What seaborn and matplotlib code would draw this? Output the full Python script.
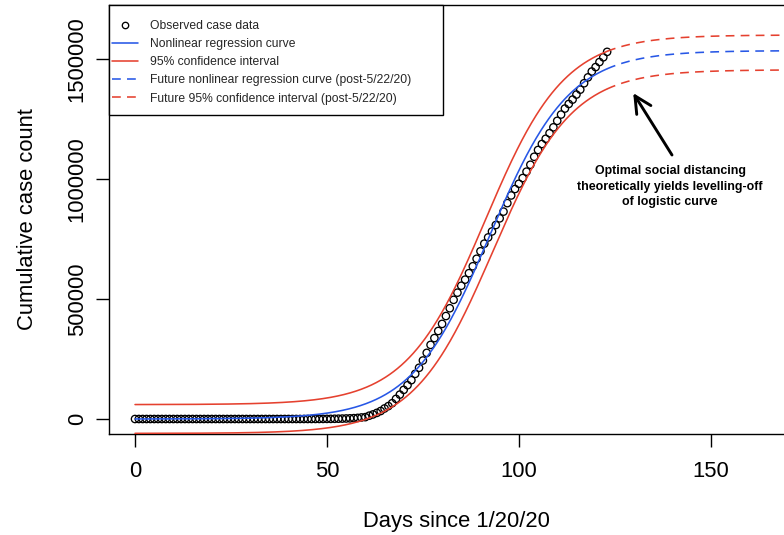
import numpy as np
import pandas as pd
import matplotlib
matplotlib.use("Agg")
import matplotlib.pyplot as plt
import seaborn as sns
from matplotlib.lines import Line2D
from matplotlib.patches import Rectangle

# ---------------- data ----------------
# Observed cumulative case counts, one per day (day 0 .. 123)
observed_cases = [
    0, 0, 0, 1,
    1, 1, 2, 2, 5, 5, 5, 5, 5, 7, 8, 8, 11, 11, 11, 11, 11, 11, 11, 11,
    12, 12, 13, 13, 13, 13, 13, 13, 13, 13, 15, 15, 15, 51, 51, 57, 58, 60, 68,
    74, 98, 118, 149, 217, 262, 402, 518, 583, 959, 1281, 1663, 2179, 2727,
    3499, 4632, 6421, 7786, 13680, 19101,
    25493, 33276, 43847, 53740, 65778, 83836, 101657, 121478, 140886, 161807,
    188172,
    213372, 243762, 275586, 308853, 337072, 366667, 396223, 429052, 461437,
    496535, 526396, 555313, 580619, 607670, 636350, 667592,
    698903, 730582, 756529, 781408, 808258, 836032, 864131, 899414, 931390,
    958330, 980182, 1003957, 1030601, 1059378, 1092564, 1120915, 1145779,
    1167555, 1190932, 1215288, 1242287, 1268521, 1293501, 1312718, 1330874,
    1351831, 1372336, 1399019, 1423443, 1447814, 1466278, 1487290, 1507044,
    1529746,
]
observed_days = list(range(len(observed_cases)))

# Logistic model parameters:
# [asymptote, growth rate, midpoint day, vertical offset]
fit_params = [1.535e6, 0.097, 92.5, 0.0]
ci_upper_params = [1.54e6, 0.097, 91.3, 6.0e4]
ci_lower_params = [1.515e6, 0.097, 93.2, -6.0e4]
last_observed_day = 123     # 5/22/20
last_future_day = 176

x_ticks = [0, 50, 100, 150]
y_ticks = [0, 500000, 1000000, 1500000]
y_tick_labels = ["0", "500000", "1000000", "1500000"]

legend_labels = [
    "Observed case data",
    "Nonlinear regression curve",
    "95% confidence interval",
    "Future nonlinear regression curve (post-5/22/20)",
    "Future 95% confidence interval (post-5/22/20)",
]
annotation_text = ("Optimal social distancing\n"
                   "theoretically yields levelling-off\n"
                   "of logistic curve")


def logistic(t, p):
    k, r, t0, c = p
    return c + k / (1.0 + np.exp(-r * (t - t0)))


# ---------------- styling ----------------
sns.set_theme(style="white")
plt.rcParams["font.family"] = ["Liberation Sans", "DejaVu Sans"]

BLUE = "#2757e6"
RED = "#e5412f"
LW = 1.15
DASH = (0, (5.5, 3.9))

W, H = 784, 535
fig = plt.figure(figsize=(W / 100, H / 100), dpi=100)
ax_left, ax_right, ax_top, ax_bottom = 109.3, 804.8, 5.0, 434.0
ax = fig.add_axes([ax_left / W, 1 - ax_bottom / H,
                   (ax_right - ax_left) / W, (ax_bottom - ax_top) / H])

obs_df = pd.DataFrame({"day": observed_days, "cases": observed_cases})
sns.scatterplot(data=obs_df, x="day", y="cases", ax=ax, marker="o",
                facecolor="none", edgecolor="black", s=28, linewidth=0.95,
                zorder=2, legend=False)

t_now = np.linspace(0, last_observed_day, 600)
t_fut = np.linspace(last_observed_day, last_future_day, 300)
for params, color, z in [(ci_upper_params, RED, 3), (ci_lower_params, RED, 3),
                         (fit_params, BLUE, 3)]:
    sns.lineplot(x=t_now, y=logistic(t_now, params), ax=ax, color=color,
                 linewidth=LW, sort=False, estimator=None, zorder=z)
    sns.lineplot(x=t_fut, y=logistic(t_fut, params), ax=ax, color=color,
                 linewidth=LW, linestyle=DASH, sort=False, estimator=None,
                 zorder=z)

ax.set_xlim(-6.7, 174.5)
ax.set_ylim(-62500, 1725000)
ax.set_xticks(x_ticks)
ax.set_xticklabels([str(v) for v in x_ticks])
ax.set_yticks(y_ticks)
ax.set_yticklabels(y_tick_labels, rotation=90, va="center")

for s in ax.spines.values():
    s.set_color("black")
    s.set_linewidth(1.0)

ax.tick_params(axis="both", which="major", direction="out", length=9.5,
               width=1.0, color="black", labelsize=15.8, labelcolor="black",
               left=True, bottom=True)
ax.tick_params(axis="x", pad=10)
ax.tick_params(axis="y", pad=6)

ax.set_xlabel("Days since 1/20/20", fontsize=15.8, color="black")
ax.set_ylabel("Cumulative case count", fontsize=15.8, color="black")
ax.xaxis.label.set_va("center")
ax.yaxis.label.set_va("center")
ax.xaxis.set_label_coords(0.4985, (ax_bottom - 521) / (ax_bottom - ax_top))
ax.yaxis.set_label_coords((28 - ax_left) / (ax_right - ax_left), 0.5)

# legend frame (R style: square box)
box = Rectangle((0.0, (ax_bottom - 115) / (ax_bottom - ax_top)),
                (443 - ax_left) / (ax_right - ax_left),
                1.0 - (ax_bottom - 115) / (ax_bottom - ax_top),
                transform=ax.transAxes, facecolor="white", edgecolor="black",
                linewidth=1.0, zorder=4, clip_on=False)
ax.add_patch(box)

handles = [
    Line2D([], [], linestyle="none", marker="o", markersize=4.6,
           markerfacecolor="none", markeredgecolor="black",
           markeredgewidth=0.95),
    Line2D([], [], color=BLUE, linewidth=LW),
    Line2D([], [], color=RED, linewidth=LW),
    Line2D([], [], color=BLUE, linewidth=LW, linestyle=DASH),
    Line2D([], [], color=RED, linewidth=LW, linestyle=DASH),
]
leg = ax.legend(handles, legend_labels, loc="upper left",
                bbox_to_anchor=((112 - ax_left) / (ax_right - ax_left),
                                (ax_bottom - 20.2) / (ax_bottom - ax_top)),
                frameon=False, borderpad=0.0, borderaxespad=0.0,
                fontsize=8.75, handlelength=2.13, handletextpad=0.99,
                labelspacing=0.5)
leg.set_zorder(5)

# annotation arrow and text
ax.annotate("", xy=(129.8, 1.358e6), xytext=(139.9, 1.10e6),
            arrowprops=dict(arrowstyle="->,head_length=0.6,head_width=0.3",
                            color="black", lw=2.1, mutation_scale=20,
                            shrinkA=0, shrinkB=0), zorder=6)
ax.text(139.4, 0.968e6, annotation_text, ha="center", va="center",
        fontsize=8.9, fontweight="bold", linespacing=1.42, color="black",
        zorder=6)

fig.savefig("out.png", dpi=100)
